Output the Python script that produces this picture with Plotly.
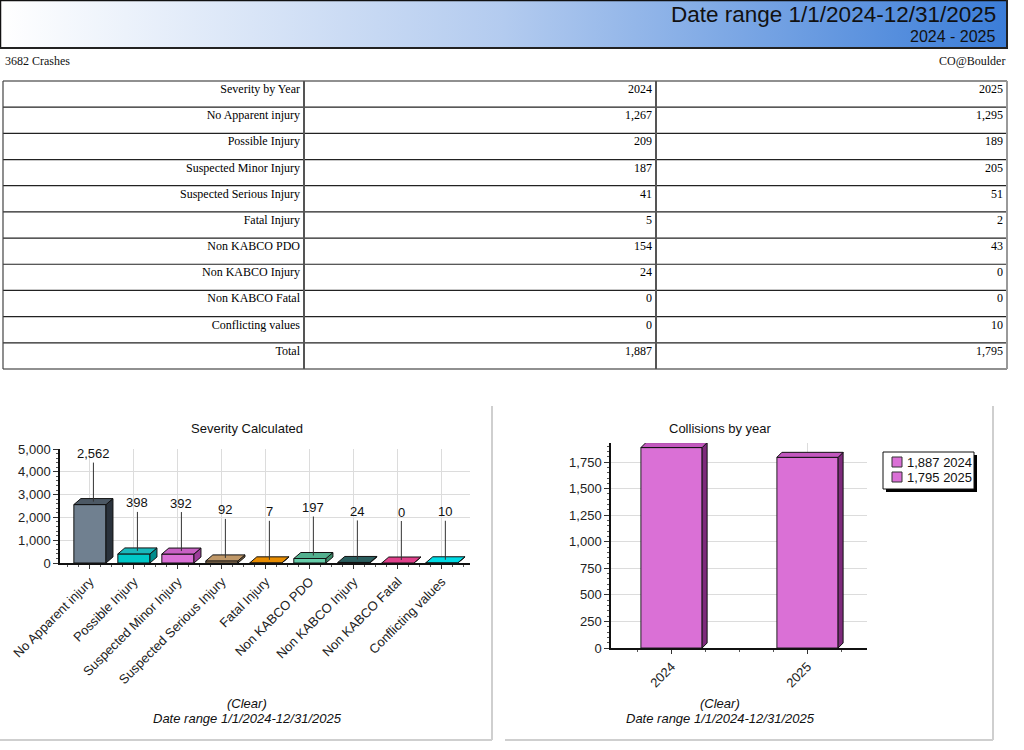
import base64

import plotly.graph_objects as go

W, H = 1024, 750

# ---- data ----
severity = [
    "No Apparent injury",
    "Possible Injury",
    "Suspected Minor Injury",
    "Suspected Serious Injury",
    "Fatal Injury",
    "Non KABCO PDO",
    "Non KABCO Injury",
    "Non KABCO Fatal",
    "Conflicting values",
]
crashes_2024 = [1267, 209, 187, 41, 5, 154, 24, 0, 0]
crashes_2025 = [1295, 189, 205, 51, 2, 43, 0, 0, 10]
severity_calc = [2562, 398, 392, 92, 7, 197, 24, 0, 10]
years = ["2024", "2025"]
collisions = [1887, 1795]

front_colors = ["#708090", "#00c8c8", "#da70d6", "#c8a070", "#f09000",
                "#66cdaa", "#2f6f6f", "#e8468c", "#00e8f0"]
top_colors = ["#4c5864", "#1ab8bc", "#c860c4", "#c09868", "#e88c00",
              "#52b08e", "#2a5e5e", "#e0408a", "#00dce6"]
side_colors = ["#2a323c", "#008c8c", "#9c3c9a", "#8a6a40", "#a86400",
               "#3a8a68", "#1a3c3c", "#a02860", "#00a0a8"]
orchid, orchid_top, orchid_side = "#da70d6", "#c258be", "#7e2a7c"

SANS = "Liberation Sans, Arial, sans-serif"
SERIF = "Liberation Serif, Times New Roman, serif"


def fx(p):
    return p / W


def fy(p):
    return 1 - p / H


# plot areas in page pixels
L_X = (60, 470)
L_Y = (563, 449)
L_XR = [-0.68, 8.64]
L_YR = [0, 5000]
R_X = (611, 867)
R_Y = (648, 443)
R_XR = [-0.445, 1.4375]
R_YR = [0, 1930]

# table frame in page pixels
T_TOP, T_ROW = 81, 26.18
T_COLS = [3, 304, 656, 1007]

# legend box of the right chart, page pixels
LEG_X, LEG_Y, LEG_W, LEG_H, LEG_ROW = 883, 452, 91, 37, 15


def bar3d(xref, yref, xs, vals, width, xpx, ypx, dx, dy, tops, sides):
    """Top and side faces of the pseudo-3D bars, anchored on the data."""
    ppx = (xpx[1] - xpx[0]) / (xpx[2][1] - xpx[2][0])
    ppy = (ypx[0] - ypx[1]) / (ypx[2][1] - ypx[2][0])
    hw = width * ppx / 2
    out = []
    for x, v, ct, cs in zip(xs, vals, tops, sides):
        h = v * ppy
        top = f"M{-hw},0 L{-hw + dx},{dy} L{hw + dx},{dy} L{hw},0 Z"
        side = f"M{hw},0 L{hw + dx},{dy} L{hw + dx},{dy - h} L{hw},{-h} Z"
        for p, c in ((side, cs), (top, ct)):
            out.append(dict(type="path", xref=xref, yref=yref,
                            xsizemode="pixel", ysizemode="pixel",
                            xanchor=x, yanchor=v, path=p, fillcolor=c,
                            line=dict(color="#111", width=1), layer="above"))
    return out


fig = go.Figure()

# ---- table ----
rows = severity + ["Total"]
col24 = [f"{v:,}" for v in crashes_2024] + [f"{sum(crashes_2024):,}"]
col25 = [f"{v:,}" for v in crashes_2025] + [f"{sum(crashes_2025):,}"]
n_rows = len(rows) + 1
t_bottom = T_TOP + n_rows * T_ROW
cell_font = dict(family=SERIF, size=12, color="black")
no_line = dict(color="rgba(0,0,0,0)", width=0)
# text sits a little higher in the original cells than plotly puts it
fig.add_trace(go.Table(
    domain=dict(x=[fx(T_COLS[0] + 4), fx(T_COLS[-1] + 4)],
                y=[fy(t_bottom - 5), fy(T_TOP - 5)]),
    columnwidth=[T_COLS[1] - T_COLS[0], T_COLS[2] - T_COLS[1],
                 T_COLS[3] - T_COLS[2]],
    header=dict(values=["Severity by Year", "2024", "2025"], align="right",
                height=T_ROW, fill_color="rgba(0,0,0,0)", font=cell_font,
                line=no_line),
    cells=dict(values=[rows, col24, col25], align="right", height=T_ROW,
               fill_color="rgba(0,0,0,0)", font=cell_font, line=no_line),
))

# ---- left chart: Severity Calculated ----
xi = list(range(len(severity)))
fig.add_trace(go.Bar(
    x=xi, y=severity_calc, width=0.73, xaxis="x", yaxis="y",
    marker=dict(color=front_colors, line=dict(color="#111", width=1)),
    showlegend=False, hovertemplate="%{text}: %{y:,}<extra></extra>",
    text=severity, textposition="none",
))

# ---- right chart: Collisions by year ----
for i, (yr, v) in enumerate(zip(years, collisions)):
    fig.add_trace(go.Bar(
        x=[i], y=[v], width=0.45, xaxis="x2", yaxis="y2",
        name=f"{v:,} {yr}", showlegend=False,
        marker=dict(color=orchid, line=dict(color="#222", width=1)),
        hovertemplate=f"{yr}: %{{y:,}}<extra></extra>",
    ))

shapes = []
shapes += bar3d("x", "y", xi, severity_calc, 0.73,
                (L_X[0], L_X[1], L_XR), (L_Y[0], L_Y[1], L_YR),
                7, 6, top_colors, side_colors)
shapes += bar3d("x2", "y2", list(range(len(years))), collisions, 0.45,
                (R_X[0], R_X[1], R_XR), (R_Y[0], R_Y[1], R_YR),
                5, 5, [orchid_top] * 2, [orchid_side] * 2)


def pline(x0, y0, x1, y1, color, width):
    shapes.append(dict(type="line", xref="paper", yref="paper",
                       x0=fx(x0), x1=fx(x1), y0=fy(y0), y1=fy(y1),
                       line=dict(color=color, width=width)))


def prect(x0, y0, x1, y1, fill, color=None, width=0):
    shapes.append(dict(type="rect", xref="paper", yref="paper",
                       x0=fx(x0), x1=fx(x1), y0=fy(y1), y1=fy(y0),
                       fillcolor=fill, layer="above",
                       line=dict(color=color or fill, width=width)))


# table rules
for k in range(n_rows + 1):
    y = T_TOP + k * T_ROW
    pline(T_COLS[0], y, T_COLS[-1], y, "#222", 1.2)
pline(T_COLS[0], T_TOP, T_COLS[0], t_bottom, "#444", 1.2)
pline(T_COLS[1], T_TOP, T_COLS[1], t_bottom, "#555", 2)
pline(T_COLS[2], T_TOP, T_COLS[2], t_bottom, "#555", 2)
pline(T_COLS[3], T_TOP, T_COLS[3], t_bottom, "#999", 2)

# header frame, heavier on the bottom and right like the report
shapes.append(dict(type="rect", xref="paper", yref="paper",
                   x0=fx(0.5), x1=fx(1007), y0=fy(48), y1=fy(0.5),
                   line=dict(color="#111", width=1.5)))
pline(0, 48, 1008, 48, "#222", 2)
pline(1007, 0, 1007, 49, "#222", 2)

# panel edges
for x0, x1 in ((0, 492), (505, 993)):
    pline(x0, 740, x1, 740, "#cfcfcf", 2)
    pline(x1, 740, x1, 406, "#cfcfcf", 2)

annotations = []

# legend of the right chart: shadowed box, swatch + label per year
prect(LEG_X + 3, LEG_Y + 3, LEG_X + LEG_W + 3, LEG_Y + LEG_H + 3, "black")
prect(LEG_X, LEG_Y, LEG_X + LEG_W, LEG_Y + LEG_H, "white", "#111", 1)
for k, (yr, v) in enumerate(zip(years, collisions)):
    cy = LEG_Y + 10 + k * LEG_ROW
    prect(LEG_X + 9, cy - 5, LEG_X + 19, cy + 5, orchid, "#333", 1)
    annotations.append(dict(
        x=fx(LEG_X + 22), y=fy(cy), xref="paper", yref="paper",
        text=f"{v:,} {yr}", showarrow=False, xanchor="left",
        yanchor="middle", font=dict(family=SANS, size=13, color="#111")))

# value labels on left bars
for i, v in zip(xi, severity_calc):
    annotations.append(dict(
        x=i, y=v, xref="x", yref="y", xshift=3.5, yshift=3,
        text=f"{v:,}", showarrow=True, arrowhead=0, arrowwidth=1,
        arrowcolor="#333", ax=0, ay=-48,
        font=dict(family=SANS, size=13, color="#111")))


def txt(x, y, s, size, anchor="center", family=SANS, italic=False):
    if italic:
        s = f"<i>{s}</i>"
    annotations.append(dict(x=fx(x), y=fy(y), xref="paper", yref="paper",
                            text=s, showarrow=False, xanchor=anchor,
                            yanchor="middle",
                            font=dict(family=family, size=size, color="#111")))


NARROW = "Liberation Sans Narrow, Arial Narrow, Liberation Sans"
txt(998, 14, "Date range 1/1/2024-12/31/2025", 22.5, "right", NARROW)
txt(998, 36, "2024 - 2025", 16, "right", NARROW)
txt(3, 61, "3682 Crashes", 12, "left", SERIF)
txt(1007, 61, "CO@Boulder", 12, "right", SERIF)

txt(247, 428, "Severity Calculated", 13)
txt(247, 703, "(Clear)", 13, italic=True)
txt(247, 718, "Date range 1/1/2024-12/31/2025", 13, italic=True)
txt(720, 428, "Collisions by year", 13)
txt(720, 703, "(Clear)", 13, italic=True)
txt(720, 718, "Date range 1/1/2024-12/31/2025", 13, italic=True)

# header gradient
svg = (
    '<svg xmlns="http://www.w3.org/2000/svg" width="1007" height="48">'
    '<defs><linearGradient id="g" x1="0" x2="1" y1="0" y2="0">'
    '<stop offset="0" stop-color="#ffffff"/>'
    '<stop offset="0.5" stop-color="#b3cbef"/>'
    '<stop offset="1" stop-color="#3b7dd8"/>'
    '</linearGradient></defs>'
    '<rect width="1007" height="48" fill="url(#g)"/></svg>'
)
header_img = "data:image/svg+xml;base64," + base64.b64encode(svg.encode()).decode()

axis_common = dict(showline=True, linecolor="#111", zeroline=False,
                   gridcolor="#dcdcdc", tickcolor="#333", automargin=False,
                   tickfont=dict(family=SANS, size=13, color="#222"))

fig.update_layout(
    width=W, height=H,
    margin=dict(l=0, r=0, t=0, b=0, pad=0, autoexpand=False),
    paper_bgcolor="white", plot_bgcolor="white",
    font=dict(family=SANS, color="#111"),
    barmode="overlay",
    showlegend=False,
    xaxis=dict(axis_common, domain=[fx(L_X[0]), fx(L_X[1])], range=L_XR,
               tickvals=xi, ticktext=severity, tickangle=-45,
               linewidth=2, ticks="outside", ticklen=4,
               minor=dict(dtick=0.25, ticks="outside", ticklen=2,
                          tickcolor="#555", showgrid=False)),
    yaxis=dict(axis_common, domain=[fy(L_Y[0]), fy(L_Y[1])], range=L_YR,
               dtick=1000, tickformat=",d", linewidth=1.5,
               ticks="outside", ticklen=5,
               minor=dict(dtick=200, ticks="outside", ticklen=2,
                          tickcolor="#555", showgrid=False)),
    xaxis2=dict(axis_common, domain=[fx(R_X[0]), fx(R_X[1])], range=R_XR,
                tickvals=list(range(len(years))), ticktext=years,
                tickangle=-45, linewidth=2, ticks="outside", ticklen=4,
                anchor="y2",
                minor=dict(dtick=0.25, ticks="outside", ticklen=2,
                           tickcolor="#555", showgrid=False)),
    yaxis2=dict(axis_common, domain=[fy(R_Y[0]), fy(R_Y[1])], range=R_YR,
                dtick=250, tickformat=",d", linewidth=1.5, anchor="x2",
                ticks="outside", ticklen=5,
                minor=dict(dtick=50, ticks="outside", ticklen=2,
                           tickcolor="#555", showgrid=False)),
    shapes=shapes,
    annotations=annotations,
    images=[dict(source=header_img, xref="paper", yref="paper",
                 x=0, y=1, sizex=fx(1007), sizey=48 / H,
                 xanchor="left", yanchor="top", sizing="stretch",
                 layer="below")],
)

# the report is laid out edge to edge: no page margin, no modebar
fig.write_html("out.html", config={"displayModeBar": False},
               post_script="document.body.style.margin = '0';")
